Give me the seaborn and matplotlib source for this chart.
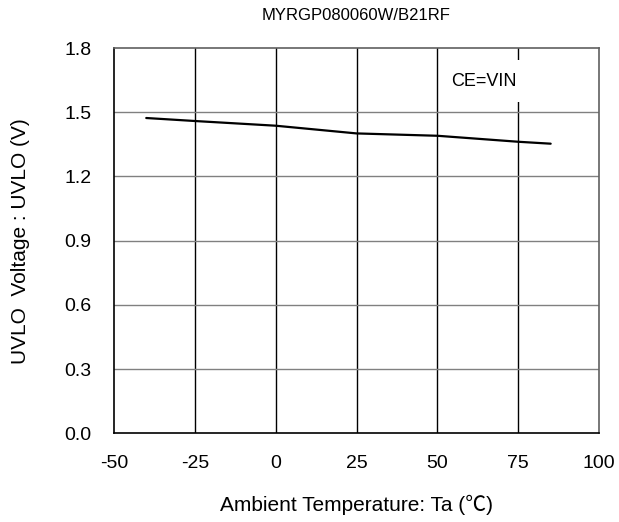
import matplotlib
matplotlib.use("Agg")
import matplotlib.pyplot as plt
import seaborn as sns
import pandas as pd

temperature = [-40, -25, 0, 25, 50, 75, 85]
uvlo = [1.473, 1.459, 1.437, 1.401, 1.390, 1.362, 1.353]
x_ticks = [-50, -25, 0, 25, 50, 75, 100]
y_ticks = [0.0, 0.3, 0.6, 0.9, 1.2, 1.5, 1.8]

sns.set_style("white")
plt.rcParams['font.family'] = ['Liberation Sans', 'DejaVu Sans']
plt.rcParams['text.color'] = 'black'
plt.rcParams['axes.labelcolor'] = 'black'
plt.rcParams['xtick.color'] = 'black'
plt.rcParams['ytick.color'] = 'black'

fig = plt.figure(figsize=(6.19, 5.22), dpi=100)
ax = fig.add_axes([0.184, 0.170, 0.784, 0.738])

df = pd.DataFrame({"Ta": temperature, "UVLO": uvlo})

for xv in x_ticks[1:-1]:
    ax.axvline(xv, color="black", lw=1.0, zorder=1)
for yv in y_ticks[1:-1]:
    ax.axhline(yv, color="#808080", lw=1.0, zorder=1)

sns.lineplot(data=df, x="Ta", y="UVLO", ax=ax, color="black", lw=1.6, zorder=3)

ax.set_xlim(-50, 100)
ax.set_ylim(0, 1.8)
ax.set_xticks(x_ticks)
ax.set_yticks(y_ticks)
ax.set_xticklabels([str(v) for v in x_ticks], fontsize=14)
ax.set_yticklabels([f"{v:.1f}" for v in y_ticks], fontsize=14)
ax.tick_params(axis='x', length=0, pad=16, labelcolor='black')
ax.tick_params(axis='y', length=0, pad=16, labelcolor='black')

for side in ["left", "bottom"]:
    ax.spines[side].set_color("black")
    ax.spines[side].set_linewidth(1.2)
for side in ["top", "right"]:
    ax.spines[side].set_color("#606060")
    ax.spines[side].set_linewidth(1.2)

ax.set_xlabel("Ambient Temperature: Ta (℃)", fontsize=15, labelpad=16, color='black',
              family=['Liberation Sans', 'Noto Sans CJK JP', 'DejaVu Sans'])
ax.set_ylabel("UVLO  Voltage : UVLO (V)", fontsize=15, labelpad=25, color='black')
ax.set_title("MYRGP080060W/B21RF", fontsize=12, pad=20, color='black')

ax.text(64.5, 1.645, "CE=VIN", fontsize=13, ha="center", va="center", zorder=4,
        color='black', bbox=dict(facecolor="white", edgecolor="none", pad=9))

fig.savefig("out.png", dpi=100)
